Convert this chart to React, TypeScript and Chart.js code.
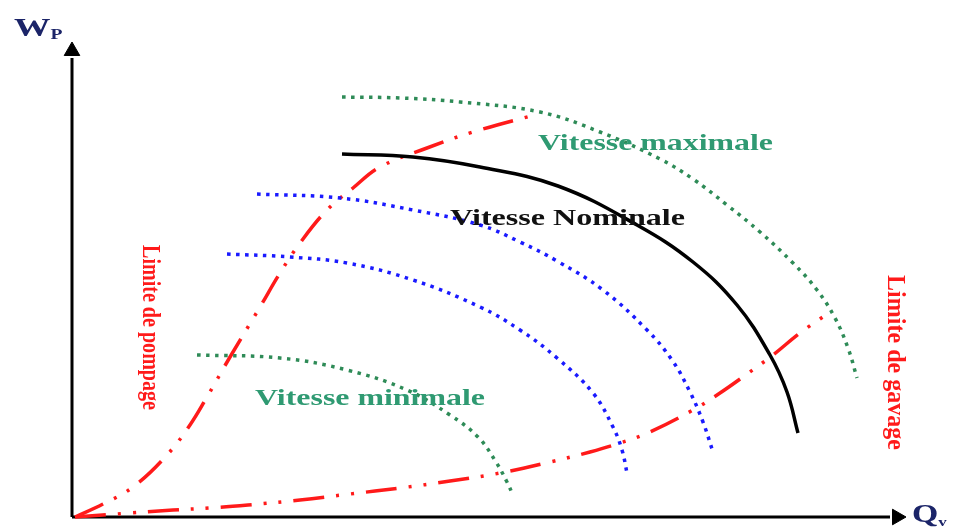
import React, { useEffect, useRef } from "react";
import { Chart, registerables } from "chart.js";

Chart.register(...registerables);

// Data units: origin at the axes' crossing point, x to the right, y upwards.
const xRange = [-72, 882];
const yRange = [-13, 517];

const vitesseMaximale: [number, number][] = [
  [270, 420], [328, 419], [388, 415], [468, 405], [528, 385], [588, 358],
  [621, 338], [655, 312], [688, 285], [721, 254], [745, 227], [763, 199],
  [776, 169], [785, 139],
];
const vitesseNominale: [number, number][] = [
  [270, 363], [341, 360], [408, 350], [486, 331], [565, 292], [621, 255],
  [665, 212], [698, 162], [715, 125], [726, 84],
];
const vitesseIntermediaireHaute: [number, number][] = [
  [185, 323], [268, 319], [341, 307], [408, 292], [448, 275], [485, 256],
  [531, 227], [575, 187], [600, 157], [618, 125], [631, 95], [641, 65],
];
const vitesseIntermediaireBasse: [number, number][] = [
  [155, 263], [218, 260], [275, 254], [341, 237], [408, 210], [448, 187],
  [485, 159], [521, 124], [541, 90], [550, 67], [555, 44],
];
const vitesseMinimale: [number, number][] = [
  [125, 162], [208, 159], [275, 147], [335, 127], [378, 102], [406, 80],
  [424, 55], [435, 35], [441, 22],
];
const limitePompage: [number, number][] = [
  [3, 0], [31, 13], [61, 30], [95, 62], [118, 92], [135, 120], [158, 160],
  [188, 210], [208, 244], [228, 274], [255, 307], [281, 329], [308, 350],
  [355, 369], [401, 385], [466, 403],
];
const limiteGavage: [number, number][] = [
  [3, 0], [58, 4], [101, 7], [138, 9], [176, 12], [228, 17], [278, 23],
  [328, 29], [378, 36], [428, 44], [478, 55], [518, 65], [548, 74], [578, 85],
  [621, 107], [648, 124], [675, 143], [701, 162], [728, 184], [758, 205],
];

const axisY: [number, number][] = [[0, 0], [0, 459]];
const axisX: [number, number][] = [[0, 0], [818, 0]];
const arrowY: [number, number][] = [[0, 466]];
const arrowX: [number, number][] = [[825, 0]];

// Curve labels: text, x, y (baseline-left), target length, orientation
const labelTexts = ["Vitesse maximale", "Vitesse Nominale", "Vitesse minimale", "Limite de pompage", "Limite de gavage"];
const labelColors = ["#2f9a72", "#111111", "#2f9a72", "#ff1a1a", "#ff1a1a"];
const labelX = [466, 378, 183, 71, 816];
const labelY = [367, 292, 112, 272, 242];
const labelLength = [235, 235, 230, 165, 175];
const labelOrient = ["h", "h", "h", "v", "v"];

const toPts = (a: [number, number][]) => a.map(([x, y]) => ({ x, y }));

const RED = "#ff1a1a";
const GREEN = "#2e8b57";
const BLUE = "#1a1aff";
const SERIF = '"Liberation Serif", "Times New Roman", serif';
const PAD = 12;

const textPlugin = {
  id: "texts",
  afterDatasetsDraw(chart: any) {
    const { ctx, scales } = chart;
    const sx = scales.x, sy = scales.y;
    ctx.save();
    labelTexts.forEach((t, i) => {
      const px = sx.getPixelForValue(labelX[i]);
      const py = sy.getPixelForValue(labelY[i]);
      ctx.save();
      ctx.fillStyle = labelColors[i];
      ctx.textBaseline = "alphabetic";
      if (labelOrient[i] === "h") {
        ctx.font = `bold 23px ${SERIF}`;
        const w = ctx.measureText(t).width;
        ctx.translate(px, py);
        ctx.scale(labelLength[i] / w, 1);
        ctx.fillText(t, 0, 0);
      } else {
        ctx.font = `bold 19px ${SERIF}`;
        const w = ctx.measureText(t).width;
        ctx.translate(px, py);
        ctx.scale(1.35, labelLength[i] / w);
        ctx.rotate(Math.PI / 2);
        ctx.fillText(t, 0, 0);
      }
      ctx.restore();
    });
    // axis titles
    const navy = "#1b2468";
    ctx.fillStyle = navy;
    ctx.textBaseline = "alphabetic";
    ctx.save();
    ctx.translate(sx.getPixelForValue(-58), sy.getPixelForValue(481));
    ctx.scale(1.4, 1);
    ctx.font = `bold 26px ${SERIF}`;
    ctx.fillText("W", 0, 0);
    const ww = ctx.measureText("W").width;
    ctx.font = `bold 14px ${SERIF}`;
    ctx.fillText("P", ww, 3);
    ctx.restore();
    ctx.save();
    ctx.translate(sx.getPixelForValue(840), sy.getPixelForValue(-5));
    ctx.scale(1.3, 1);
    ctx.font = `bold 26px ${SERIF}`;
    ctx.fillText("Q", 0, 0);
    const qw = ctx.measureText("Q").width;
    ctx.font = `bold 13px ${SERIF}`;
    ctx.fillText("v", qw, 4);
    ctx.restore();
    ctx.restore();
  },
};

const curve = (data: [number, number][], color: string, dash: number[], width: number) => ({
  data: toPts(data),
  showLine: true,
  borderColor: color,
  backgroundColor: color,
  borderWidth: width,
  borderDash: dash,
  pointRadius: 0,
  tension: 0.4,
  fill: false,
});

export default function App() {
  const ref = useRef<HTMLCanvasElement | null>(null);
  useEffect(() => {
    document.body.style.margin = "0";
    const redDash = [31, 12, 3, 12, 3, 12];
    const dots = [3.5, 5.5];
    const chart = new Chart(ref.current as HTMLCanvasElement, {
      type: "scatter",
      data: {
        datasets: [
          curve(vitesseNominale, "#000000", [], 3.5),
          curve(vitesseMaximale, GREEN, dots, 3.5),
          curve(vitesseIntermediaireHaute, BLUE, dots, 3.5),
          curve(vitesseIntermediaireBasse, BLUE, dots, 3.5),
          curve(vitesseMinimale, GREEN, dots, 3.5),
          curve(limitePompage, RED, redDash, 3.5),
          curve(limiteGavage, RED, redDash, 3.5),
          { ...curve(axisY, "#000000", [], 3), tension: 0 },
          { ...curve(axisX, "#000000", [], 3), tension: 0 },
          {
            data: toPts(arrowY), pointStyle: "triangle", pointRadius: 9, rotation: 0,
            backgroundColor: "#000", borderColor: "#000", borderWidth: 1, showLine: false,
          },
          {
            data: toPts(arrowX), pointStyle: "triangle", pointRadius: 9, rotation: 90,
            backgroundColor: "#000", borderColor: "#000", borderWidth: 1, showLine: false,
          },
        ] as any,
      },
      options: {
        animation: false,
        responsive: false,
        events: [],
        layout: { padding: PAD },
        plugins: { legend: { display: false }, tooltip: { enabled: false }, title: { display: false } },
        scales: {
          x: { type: "linear", display: false, min: xRange[0], max: xRange[1] },
          y: { type: "linear", display: false, min: yRange[0], max: yRange[1] },
        },
      },
      plugins: [textPlugin],
    });
    return () => chart.destroy();
  }, []);
  return (
    <div style={{ width: 954, height: 530, background: "#fff", position: "relative", overflow: "hidden" }}>
      <canvas
        ref={ref}
        width={954 + 2 * PAD}
        height={530 + 2 * PAD}
        style={{ display: "block", position: "absolute", left: -PAD, top: -PAD }}
      />
    </div>
  );
}
